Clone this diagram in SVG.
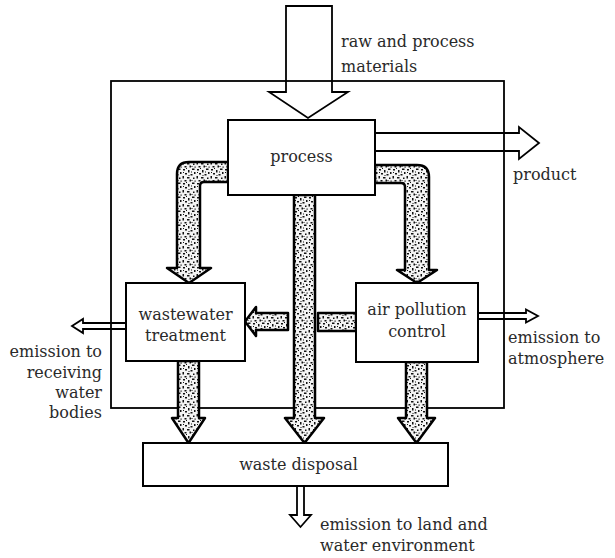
<svg xmlns="http://www.w3.org/2000/svg" width="615" height="558" viewBox="0 0 615 558">
<style>
.box{fill:#fff;stroke:#000;stroke-width:2}
.frame{fill:none;stroke:#000;stroke-width:1.8}
.hollow{fill:none;stroke:#000;stroke-width:1.8;stroke-linejoin:miter}
.pipe{fill:url(#stipple);stroke:#000;stroke-width:2.5;stroke-linejoin:round}
text{font-family:"DejaVu Serif","Liberation Serif",serif;font-size:16px;fill:#2a2a2a}
.c{text-anchor:middle}
.r{text-anchor:end}
</style>
<defs>
<pattern id="stipple" width="14" height="14" patternUnits="userSpaceOnUse">
<rect width="14" height="14" fill="#f4f4f4"/>
<g fill="#111">
<rect x="1" y="1" width="2" height="1.5"/>
<rect x="6" y="2" width="1.5" height="2.5"/>
<rect x="10" y="0.5" width="2.5" height="1.5"/>
<rect x="3" y="5" width="2" height="1.5"/>
<rect x="8.5" y="6" width="2" height="1.5"/>
<rect x="12" y="4" width="1.5" height="2"/>
<rect x="0.5" y="8" width="1.5" height="2.5"/>
<rect x="5" y="9" width="2.5" height="1.5"/>
<rect x="11" y="9.5" width="1.5" height="1.5"/>
<rect x="2.5" y="12" width="2" height="1.5"/>
<rect x="7.5" y="11.5" width="1.5" height="2"/>
<rect x="12.5" y="12.5" width="1.2" height="1.2"/>
<rect x="4" y="0" width="1" height="1"/>
<rect x="9" y="3.5" width="1" height="1"/>
<rect x="1" y="4" width="1" height="1"/>
<rect x="6.5" y="7" width="1" height="1"/>
<rect x="9.5" y="12" width="1" height="1"/>
</g>
</pattern>
</defs>

<g id="boundary">
<rect class="frame" x="111" y="81" width="393" height="327"/>
</g>

<g id="connectors">
<path id="raw-input" class="hollow" d="M286,6 H332 V92 H348 L308,118 L269,92 H286 Z"/>
<path id="product-arrow" class="hollow" d="M375,133 H519 V127 L539,143 L519,159 V151 H375"/>
<path id="to-wastewater" class="pipe" d="M228,162 H189 Q177,162 177,174 V268 H167 L189,283 L211,268 H200 V186 Q200,182 204,182 H228 Z"/>
<path id="to-air" class="pipe" d="M375,165 H417 Q429,165 429,177 V270 H437 L417,283 L397,270 H405 V187 Q405,183 401,183 H375 Z"/>
<path id="process-to-disposal" class="pipe" d="M294,195 H315 V418 H324 L304.5,443 L285,418 H294 Z"/>
<path id="ww-to-disposal" class="pipe" d="M178,361 H199 V418 H205 L188.5,443 L172,418 H178 Z"/>
<path id="air-to-disposal" class="pipe" d="M406,362 H427 V418 H435 L416.5,443 L398,418 H406 Z"/>
<path id="air-to-ww-left" class="pipe" d="M288,313 H256 V307 L245,321.5 L256,336 V330 H288 Z"/>
<path id="air-to-ww-right" class="pipe" d="M356,313 H318 V331 H356 Z"/>
<path id="ww-emission" class="hollow" d="M126,323 H83 V319 L72,326 L83,333 V329 H126"/>
<path id="air-emission" class="hollow" d="M478,313 H526 V309.5 L538,316 L526,322.5 V319 H478"/>
<path id="disposal-emission" class="hollow" d="M297,486 V515 H290 L300.5,527 L311,515 H304 V486"/>
</g>

<g id="process">
<rect class="box" x="228" y="120" width="147" height="75"/>
<text class="c" x="301.5" y="162">process</text>
</g>

<g id="wastewater-treatment">
<rect class="box" x="126" y="283" width="119" height="78"/>
<text class="c" x="185.5" y="320">wastewater</text>
<text class="c" x="185.5" y="341">treatment</text>
</g>

<g id="air-pollution-control">
<rect class="box" x="356" y="283" width="122" height="79"/>
<text class="c" x="417" y="315">air pollution</text>
<text class="c" x="417" y="337">control</text>
</g>

<g id="waste-disposal">
<rect class="box" x="143" y="443" width="305" height="43"/>
<text class="c" x="298.5" y="470">waste disposal</text>
</g>

<g id="labels">
<text x="341" y="47">raw and process</text>
<text x="341" y="72">materials</text>
<text x="513" y="180">product</text>
<text class="r" x="102" y="357">emission to</text>
<text class="r" x="102" y="378">receiving</text>
<text class="r" x="102" y="398">water</text>
<text class="r" x="102" y="418">bodies</text>
<text x="508" y="343">emission to</text>
<text x="508" y="364">atmosphere</text>
<text x="320" y="530">emission to land and</text>
<text x="320" y="551">water environment</text>
</g>
</svg>
